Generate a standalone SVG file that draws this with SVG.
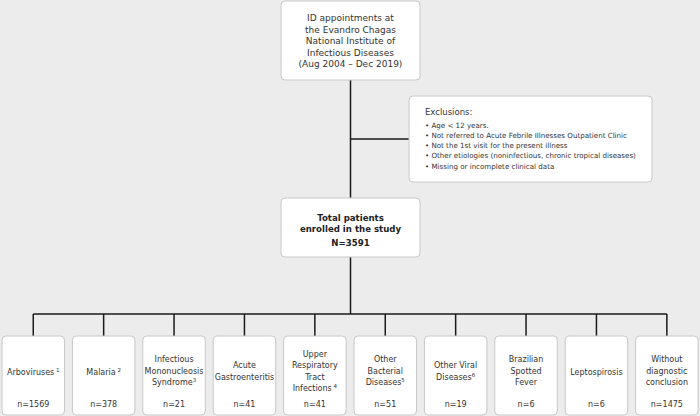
<svg xmlns="http://www.w3.org/2000/svg" width="700" height="416" viewBox="0 0 700 416">
<style>
.box{fill:#fff;stroke:#c8c8c8;stroke-width:1}
.ln{stroke:#1a1a1a;stroke-width:1.5;fill:none}
text{font-family:"DejaVu Sans",Verdana,sans-serif;fill:#333;text-anchor:middle}
.t{font-size:9px}
.b{font-size:8.6px;font-weight:bold;fill:#222}
.ex{font-size:8.5px;text-anchor:start}
.exl{font-size:7.1px;text-anchor:start}
.s{font-size:8px}
.sup{font-size:5.5px}
</style>
<rect width="700" height="416" fill="#ececec"/>
<g id="connectors">
<path class="ln" d="M350.5,80 V198 M350.5,139 H409 M350.5,257 V314 M33.25,314 H666.85"/>
<path class="ln" d="M33.25,314 V336 M103.65,314 V336 M174.05,314 V336 M244.45,314 V336 M314.85,314 V336 M385.25,314 V336 M455.65,314 V336 M526.05,314 V336 M596.45,314 V336 M666.85,314 V336"/>
</g>
<g id="top">
<rect class="box" x="281" y="1" width="139" height="79" rx="4"/>
<text class="t" x="350.5" y="21">ID appointments at</text>
<text class="t" x="350.5" y="32.5">the Evandro Chagas</text>
<text class="t" x="350.5" y="44">National Institute of</text>
<text class="t" x="350.5" y="55.5">Infectious Diseases</text>
<text class="t" x="350.5" y="67">(Aug 2004 – Dec 2019)</text>
</g>
<g id="exclusions">
<rect class="box" x="409" y="96" width="243" height="86" rx="4"/>
<text class="ex" x="425" y="115">Exclusions:</text>
<text class="exl" x="425" y="127.5">• Age &lt; 12 years.</text>
<text class="exl" x="425" y="137.8">• Not referred to Acute Febrile Illnesses Outpatient Clinic</text>
<text class="exl" x="425" y="148">• Not the 1st visit for the present illness</text>
<text class="exl" x="425" y="158.3">• Other etiologies (noninfectious, chronic tropical diseases)</text>
<text class="exl" x="425" y="168.5">• Missing or incomplete clinical data</text>
</g>
<g id="total">
<rect class="box" x="281" y="198" width="139" height="59" rx="4"/>
<text class="b" x="350.5" y="221">Total patients</text>
<text class="b" x="350.5" y="231.5">enrolled in the study</text>
<text class="b" x="350.5" y="246">N=3591</text>
</g>
<g id="n1">
<rect class="box" x="2" y="336" width="62.5" height="79" rx="4"/>
<text class="s" x="33.25" y="374.5">Arboviruses<tspan class="sup" dy="-3"> 1</tspan></text>
<text class="s" x="33.25" y="406.5">n=1569</text>
</g>
<g id="n2">
<rect class="box" x="72.4" y="336" width="62.5" height="79" rx="4"/>
<text class="s" x="103.65" y="374.5">Malaria<tspan class="sup" dy="-3"> 2</tspan></text>
<text class="s" x="103.65" y="406.5">n=378</text>
</g>
<g id="n3">
<rect class="box" x="142.8" y="336" width="62.5" height="79" rx="4"/>
<text class="s" x="174.05" y="362.2">Infectious</text>
<text class="s" x="174.05" y="373.5">Mononucleosis</text>
<text class="s" x="174.05" y="384.8">Syndrome<tspan class="sup" dy="-3">3</tspan></text>
<text class="s" x="174.05" y="406.5">n=21</text>
</g>
<g id="n4">
<rect class="box" x="213.2" y="336" width="62.5" height="79" rx="4"/>
<text class="s" x="244.45" y="368">Acute</text>
<text class="s" x="244.45" y="379.5">Gastroenteritis</text>
<text class="s" x="244.45" y="406.5">n=41</text>
</g>
<g id="n5">
<rect class="box" x="283.6" y="336" width="62.5" height="79" rx="4"/>
<text class="s" x="314.85" y="357">Upper</text>
<text class="s" x="314.85" y="368.3">Respiratory</text>
<text class="s" x="314.85" y="379.6">Tract</text>
<text class="s" x="314.85" y="390.9">Infections<tspan class="sup" dy="-3"> 4</tspan></text>
<text class="s" x="314.85" y="406.5">n=41</text>
</g>
<g id="n6">
<rect class="box" x="354" y="336" width="62.5" height="79" rx="4"/>
<text class="s" x="385.25" y="362.2">Other</text>
<text class="s" x="385.25" y="373.5">Bacterial</text>
<text class="s" x="385.25" y="384.8">Diseases<tspan class="sup" dy="-3">5</tspan></text>
<text class="s" x="385.25" y="406.5">n=51</text>
</g>
<g id="n7">
<rect class="box" x="424.4" y="336" width="62.5" height="79" rx="4"/>
<text class="s" x="455.65" y="368">Other Viral</text>
<text class="s" x="455.65" y="379.5">Diseases<tspan class="sup" dy="-3">6</tspan></text>
<text class="s" x="455.65" y="406.5">n=19</text>
</g>
<g id="n8">
<rect class="box" x="494.8" y="336" width="62.5" height="79" rx="4"/>
<text class="s" x="526.05" y="362.2">Brazilian</text>
<text class="s" x="526.05" y="373.5">Spotted</text>
<text class="s" x="526.05" y="384.8">Fever</text>
<text class="s" x="526.05" y="406.5">n=6</text>
</g>
<g id="n9">
<rect class="box" x="565.2" y="336" width="62.5" height="79" rx="4"/>
<text class="s" x="596.45" y="374.5">Leptospirosis</text>
<text class="s" x="596.45" y="406.5">n=6</text>
</g>
<g id="n10">
<rect class="box" x="635.6" y="336" width="62.5" height="79" rx="4"/>
<text class="s" x="666.85" y="362.2">Without</text>
<text class="s" x="666.85" y="373.5">diagnostic</text>
<text class="s" x="666.85" y="384.8">conclusion</text>
<text class="s" x="666.85" y="406.5">n=1475</text>
</g>
</svg>
